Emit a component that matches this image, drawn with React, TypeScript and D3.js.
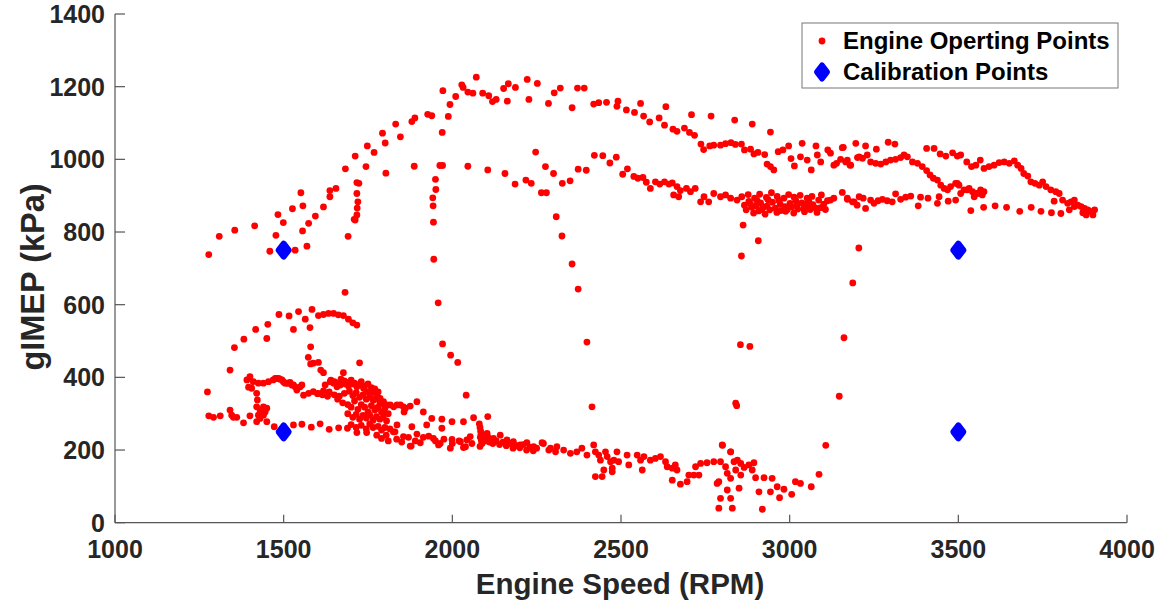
import React from 'react';
import * as d3 from 'd3';

type P = [number, number];

// Engine operating points [RPM, gIMEP kPa]
const upperOuterBand: P[] = [
  [1278,738],[1309,788],[1355,805],[1414,817],[1483,848],[1499,826],[1526,864],[1551,908],[1557,872],[1594,844],
  [1618,869],[1637,897],[1637,914],[1655,920],[1683,974],[1712,1009],[1744,980],[1748,1037],[1768,1019],[1793,1072],
  [1801,1045],[1832,1097],[1846,1062],[1880,1104],[1889,1114],[1927,1124],[1939,1120],[1972,1189],[1988,1118],[1993,1151],
  [2010,1173],[2028,1205],[2032,1198],[2046,1185],[2061,1182],[2071,1226],[2090,1182],[2108,1175],[2119,1159],[2130,1165],
  [2152,1195],[2166,1208],[2187,1198],[2163,1160],[2222,1220],[2252,1209],[2227,1165],[2285,1154],[2302,1183],[2320,1196],
  [2355,1142],[2371,1196],[2391,1196],[2419,1152],[2434,1156],[2457,1157],[2491,1160],[2488,1146],[2516,1136],[2540,1129],
  [2558,1154],[2567,1119],[2585,1103],[2613,1114],[2633,1145],[2629,1094],[2654,1083],[2666,1077],[2688,1086],[2703,1074],
  [2718,1066],[2709,1123],[2767,1119],[2837,1108],[2889,1097],[2943,1075],
  [2737,1042],[2745,1027],[2763,1037],[2775,1039],[2795,1039],[2810,1043],[2826,1046],[2839,1041],[2857,1042],[2866,1026],
  [2884,1028],[2894,1015],[2906,1019],[2926,1013],[2933,987],[2943,980],[2953,971],[2966,1021],[2980,1026],[2997,1037],
  [3004,1002],[3014,982],[3037,1044],[3032,1007],[3052,998],[3064,971],[3078,1037],[3082,1012],[3092,993],[3113,1026],
  [3121,1017],[3131,984],[3139,989],[3156,1032],[3151,1000],[3171,998],[3181,984],[3196,1044],[3201,1005],
  [3159,1033],[3225,1037],[3257,1028],[3292,1047],[3312,1042],[3166,993],[3179,984],[3206,1007],[3216,1003],[3230,1012],
  [3240,993],[3255,989],[3270,987],[3285,993],[3299,998],[3314,1000],[3329,1005],[3339,1012],[3349,1007],[3364,993],
  [3379,989],[3393,980],[3406,969],[3416,957],[3426,948],[3438,943],[3448,929],[3458,920],[3468,916],[3477,925],
  [3492,934],[3502,929],[3517,916],[3532,920],[3542,911],[3552,906],[3566,916],[3576,911],[3571,902],[3406,1030],
  [3428,1030],[3446,1015],[3463,1009],[3483,1018],[3497,1009],[3507,1012],[3525,993],[3539,980],[3552,984],[3565,998],
  [3576,975],[3591,980],[3606,984],[3621,991],[3636,993],[3651,989],[3666,996],[3676,984],[3686,975],[3694,961],
  [3706,954],[3715,938],[3727,934],[3740,929],[3750,938],[3760,925],[3774,916],[3789,911],[3799,906],[3809,888],
  [3824,879],[3834,883],[3844,888],[3854,874],[3864,870],[3874,865],[3884,861],[3894,856],[3904,861],[3879,847],
  [3899,847],[3869,853],[3844,870],[3829,861],
];

const upperInnerBand: P[] = [
  [1803,962],[1887,981],[1963,983],[1971,983],[2046,981],[2105,971],[2156,961],[2186,932],[2218,943],[2234,934],
  [2247,1020],[2264,908],[2279,908],[2276,980],[2300,961],[2308,842],[2325,789],[2326,934],[2349,941],[2373,973],
  [2397,970],[2421,1011],[2446,1010],[2467,990],[2486,1006],[2505,959],[2519,974],[2538,953],[2550,948],[2565,950],
  [2575,937],[2587,920],[2602,938],[2615,932],[2629,938],[2642,932],[2652,935],[2666,925],[2676,914],[2694,920],
  [2706,911],[2720,920],[2656,902],[2671,897],[2736,883],[2746,897],[2760,883],[2775,906],[2795,897],[2810,902],
  [2825,893],[2844,888],[2862,819],
  [3121,888],[3131,893],[3156,909],[3171,893],[3191,883],[3206,897],[3171,890],[3186,883],[3200,874],[3218,893],
  [3225,865],[3240,888],[3250,879],[3262,886],[3275,890],[3289,886],[3304,883],[3314,905],[3329,890],[3344,896],
  [3359,899],[3381,872],[3388,896],[3410,893],[3438,879],[3443,897],[3470,885],[3492,888],[3497,934],[3507,906],
  [3537,859],[3527,916],[3547,897],[3557,906],[3575,868],[3609,872],[3643,868],[3682,857],[3716,868],[3745,857],
  [3776,853],[3804,851],[3784,885],
];

const denseCluster3000: P[] = [
  [2858,897],[2866,874],[2871,861],[2877,903],[2879,884],[2888,868],[2893,852],[2896,893],[2901,872],[2908,858],
  [2911,904],[2914,880],[2922,869],[2927,849],[2931,895],[2933,871],[2941,861],[2946,908],[2949,882],[2957,866],
  [2962,854],[2963,898],[2972,876],[2974,859],[2983,893],[2986,870],[2988,857],[2997,903],[3001,879],[3006,869],
  [3012,852],[3013,896],[3022,874],[3024,863],[3031,901],[3036,880],[3042,864],[3044,856],[3052,893],[3054,871],
  [3061,862],[3066,898],[3069,875],[3077,866],[3081,854],[3086,888],[3092,867],[3094,902],[3101,877],[3106,862],
  [3112,886],[2903,887],[2936,889],[2968,887],[3018,886],[3057,884],[2918,862],[2993,862],[3046,877],[2884,877],
];

const transients: P[] = [
  [1717,936],[1723,934],[1717,906],[1720,883],[1718,866],[1717,847],[1712,833],[1709,835],[1691,788],[1682,634],
  [1970,1074],[1950,945],[1951,917],[1942,894],[1943,872],[1944,827],[1945,725],[1958,605],[1971,492],[1995,461],
  [2016,441],[2041,351],[2355,712],[2373,643],[2399,497],[2414,319],[2857,734],[2907,776],[2854,490],[2882,485],
  [2840,329],[2843,322],[2801,213],[2825,195],[3161,509],[3147,348],[3107,213],[3187,660],[3205,756],
  [1534,750],[1459,747],[1477,791],[1569,761],[1556,803],[1574,824],
];

const lowerArc: P[] = [
  [1274,360],[1341,420],[1354,482],[1382,505],[1417,532],[1450,507],[1453,546],[1486,573],[1516,569],[1529,532],
  [1544,581],[1564,560],[1584,587],[1578,537],[1603,570],[1618,573],[1633,576],[1648,576],[1662,572],[1677,570],
  [1692,560],[1705,550],[1717,544],[1580,484],[1573,455],[1580,437],[1603,441],[1610,420],[1618,413],[1588,439],
  [1725,440],[1677,413],
];

const lowerUpperBand: P[] = [
  [1391,393],[1400,402],[1410,388],[1396,373],[1405,370],[1425,384],[1440,384],[1455,388],[1469,393],[1479,397],
  [1489,395],[1499,388],[1509,384],[1519,386],[1529,379],[1539,365],[1549,374],[1554,379],[1420,356],[1422,338],
  [1475,397],[1485,397],[1495,393],[1504,384],[1514,384],[1524,379],[1534,374],[1559,351],[1574,356],[1588,361],
  [1603,356],[1618,363],[1623,379],[1638,388],[1648,384],[1658,374],[1668,379],[1683,382],[1692,376],[1707,382],
  [1717,374],[1727,379],[1737,370],[1747,361],[1757,356],[1767,361],[1776,351],[1786,342],[1796,333],[1816,324],
  [1836,324],[1855,319],[1875,321],[1895,333],[1857,305],[1914,305],[1939,287],[1969,285],[1999,278],[2033,278],
  [2063,289],[2105,292],[1767,338],[1786,329],[1806,324],[1826,319],[1846,324],[1861,315],[1776,315],[1796,305],
];

const denseCluster1700: P[] = [
  [1640,392],[1650,388],[1660,384],[1670,395],[1680,390],[1690,386],[1700,392],[1710,384],[1720,380],[1730,388],
  [1740,376],[1750,382],[1760,372],[1770,368],[1780,360],
  [1635,360],[1650,352],[1665,348],[1680,356],[1695,362],[1705,350],[1715,358],[1725,345],[1735,352],[1745,340],
  [1755,346],[1765,338],[1775,344],[1785,335],[1795,328],
  [1660,340],[1675,330],[1690,325],[1700,318],[1710,335],[1720,312],[1730,325],[1740,318],[1750,305],[1760,322],
  [1770,310],[1780,318],[1790,305],[1800,315],[1810,300],
  [1690,300],[1705,290],[1715,298],[1725,285],[1735,295],[1745,288],[1755,296],[1765,282],[1775,292],[1785,285],
  [1795,290],[1805,280],
  [1700,270],[1715,262],[1730,268],[1745,258],[1755,272],[1765,262],[1780,265],[1790,255],[1800,262],[1815,258],
  [1830,250],[1600,355],[1615,352],[1630,348],
];

const lowerLeftCluster: P[] = [
  [1278,294],[1292,290],[1312,294],[1341,310],[1346,296],[1351,290],[1361,290],[1381,275],[1400,294],[1420,319],
  [1430,310],[1440,319],[1450,315],[1425,296],[1440,296],[1420,278],[1450,278],[1430,287],[1445,305],
];

const lowerLine: P[] = [
  [1472,264],[1529,269],[1554,271],[1582,263],[1608,272],[1635,257],[1663,261],[1689,260],[1717,248],[1746,248],
  [1776,241],[1804,241],[1836,269],[1825,250],[1855,237],[1875,211],[1895,244],[1914,235],[1924,269],[1944,232],
  [1959,214],[1969,260],[1994,205],[1999,229],[2033,207],[2043,228],[1880,264],[1878,211],[1964,218],[2024,223],
  [2039,209],[2053,237],[2058,218],[1790,232],[1810,225],[1835,230],[1850,222],[1870,235],[1890,225],[1905,220],
  [1930,238],[1950,225],[1975,230],[2000,218],[2020,225],
  [2080,272],[2082,262],[2084,252],[2085,243],[2083,235],[2086,226],[2088,218],[2082,210],[2090,240],[2095,232],
  [2100,225],[2105,236],[2110,222],[2115,230],[2120,218],[2130,225],[2140,215],[2150,222],[2160,212],[2170,218],
  [2180,205],[2190,212],[2200,206],[2210,215],[2220,200],[2230,208],[2240,198],[2250,205],
  [2103,246],[2122,232],[2142,241],[2162,228],[2181,223],[2201,214],[2221,220],[2241,209],[2270,218],[2291,205],
  [2310,209],[2330,200],
  [2266,220],[2286,200],[2306,195],[2350,191],[2369,195],[2384,205],[2399,186],[2419,214],[2424,195],[2439,172],
  [2434,186],[2454,195],[2459,182],[2469,168],[2474,150],[2479,172],[2488,195],[2493,168],[2449,145],[2424,127],
  [2444,127],[2474,140],[2518,186],[2523,159],[2548,186],[2558,172],[2568,182],[2563,145],[2587,172],[2602,177],
  [2617,182],[2632,168],[2637,154],[2652,150],[2661,159],[2666,145],[2652,117],[2676,106],[2696,113],[2701,131],
  [2716,131],[2731,131],[2721,154],[2736,163],[2755,165],[2775,168],[2795,168],[2800,214],[2825,195],[2810,154],
  [2815,136],[2825,122],[2835,168],[2845,172],[2855,163],[2865,152],[2879,159],[2894,165],[2840,145],[2855,131],
  [2850,95],[2825,67],[2815,90],[2795,67],[2790,40],[2830,40],[2785,108],[2790,113],
  [3087,133],[3064,99],[3032,108],[3017,113],[3006,78],[2983,92],[2970,69],[2963,99],[2948,122],[2943,85],
  [2924,124],[2909,85],[2919,37],[2899,124],[2889,145],
];

const calibrationPoints: P[] = [[1500, 750], [1500, 250], [3500, 750], [3500, 250]];

const xTicks = [1000, 1500, 2000, 2500, 3000, 3500, 4000];
const yTicks = [0, 200, 400, 600, 800, 1000, 1200, 1400];

const legendLabels = ['Engine Operting Points', 'Calibration Points'];
const xLabel = 'Engine Speed (RPM)';
const yLabel = 'gIMEP (kPa)';

export default function App() {
  const x = d3.scaleLinear().domain([1000, 4000]).range([115, 1127]);
  const y = d3.scaleLinear().domain([0, 1400]).range([522.7, 14]);
  const operating: P[] = [
    ...upperOuterBand, ...upperInnerBand, ...denseCluster3000, ...transients,
    ...lowerArc, ...lowerUpperBand, ...denseCluster1700, ...lowerLeftCluster, ...lowerLine,
  ];
  const diamond = 'M0,-6.5L5,0L0,6.5L-5,0Z';
  const axisColor = '#555';
  const textColor = '#262626';
  const font = "'Liberation Sans', Arial, Helvetica, sans-serif";
  const x0 = x(1000), y0 = y(0);

  return (
    <svg width={1160} height={606} style={{ position: 'absolute', left: 0, top: 0, background: '#fff' }} fontFamily={font}>
      <rect x={0} y={0} width={1160} height={606} fill="#fff" />
      <line x1={x0} x2={x(4000)} y1={y0} y2={y0} stroke={axisColor} strokeWidth={1.2} />
      <line x1={x0} x2={x0} y1={y0} y2={y(1400)} stroke={axisColor} strokeWidth={1.2} />
      {xTicks.map((t) => (
        <g key={'xt' + t}>
          <line x1={x(t)} x2={x(t)} y1={y0} y2={y0 - 8} stroke={axisColor} strokeWidth={1.2} />
          <text x={x(t)} y={558} textAnchor="middle" fontSize={25} fontWeight="bold" fill={textColor}>{t}</text>
        </g>
      ))}
      {yTicks.map((t) => (
        <g key={'yt' + t}>
          <line x1={x0} x2={x0 + 10} y1={y(t)} y2={y(t)} stroke={axisColor} strokeWidth={1.2} />
          <text x={105} y={y(t) + 9} textAnchor="end" fontSize={25} fontWeight="bold" fill={textColor}>{t}</text>
        </g>
      ))}
      <text x={620} y={594} textAnchor="middle" fontSize={29.5} fontWeight="bold" fill={textColor}>{xLabel}</text>
      <text transform={`translate(44,${277}) rotate(-90)`} textAnchor="middle" fontSize={32.5} fontWeight="bold" fill={textColor}>{yLabel}</text>

      <g fill="#ff0000">
        {operating.map((d, i) => (
          <circle key={'p' + i} cx={x(d[0])} cy={y(d[1])} r={3.4} />
        ))}
      </g>
      <g fill="#0000ff" stroke="#0000ff" strokeWidth={6} strokeLinejoin="round">
        {calibrationPoints.map((d, i) => (
          <path key={'c' + i} d={diamond} transform={`translate(${x(d[0])},${y(d[1])})`} />
        ))}
      </g>

      <rect x={802} y={23} width={316} height={65} fill="#fff" stroke="#777" strokeWidth={1} />
      <circle cx={822} cy={41} r={3.4} fill="#ff0000" />
      <path d={diamond} transform="translate(822,72)" fill="#0000ff" stroke="#0000ff" strokeWidth={6} strokeLinejoin="round" />
      <text x={843} y={48.5} fontSize={24} fontWeight="bold" fill="#000">{legendLabels[0]}</text>
      <text x={843} y={79.5} fontSize={24} fontWeight="bold" fill="#000">{legendLabels[1]}</text>
    </svg>
  );
}
